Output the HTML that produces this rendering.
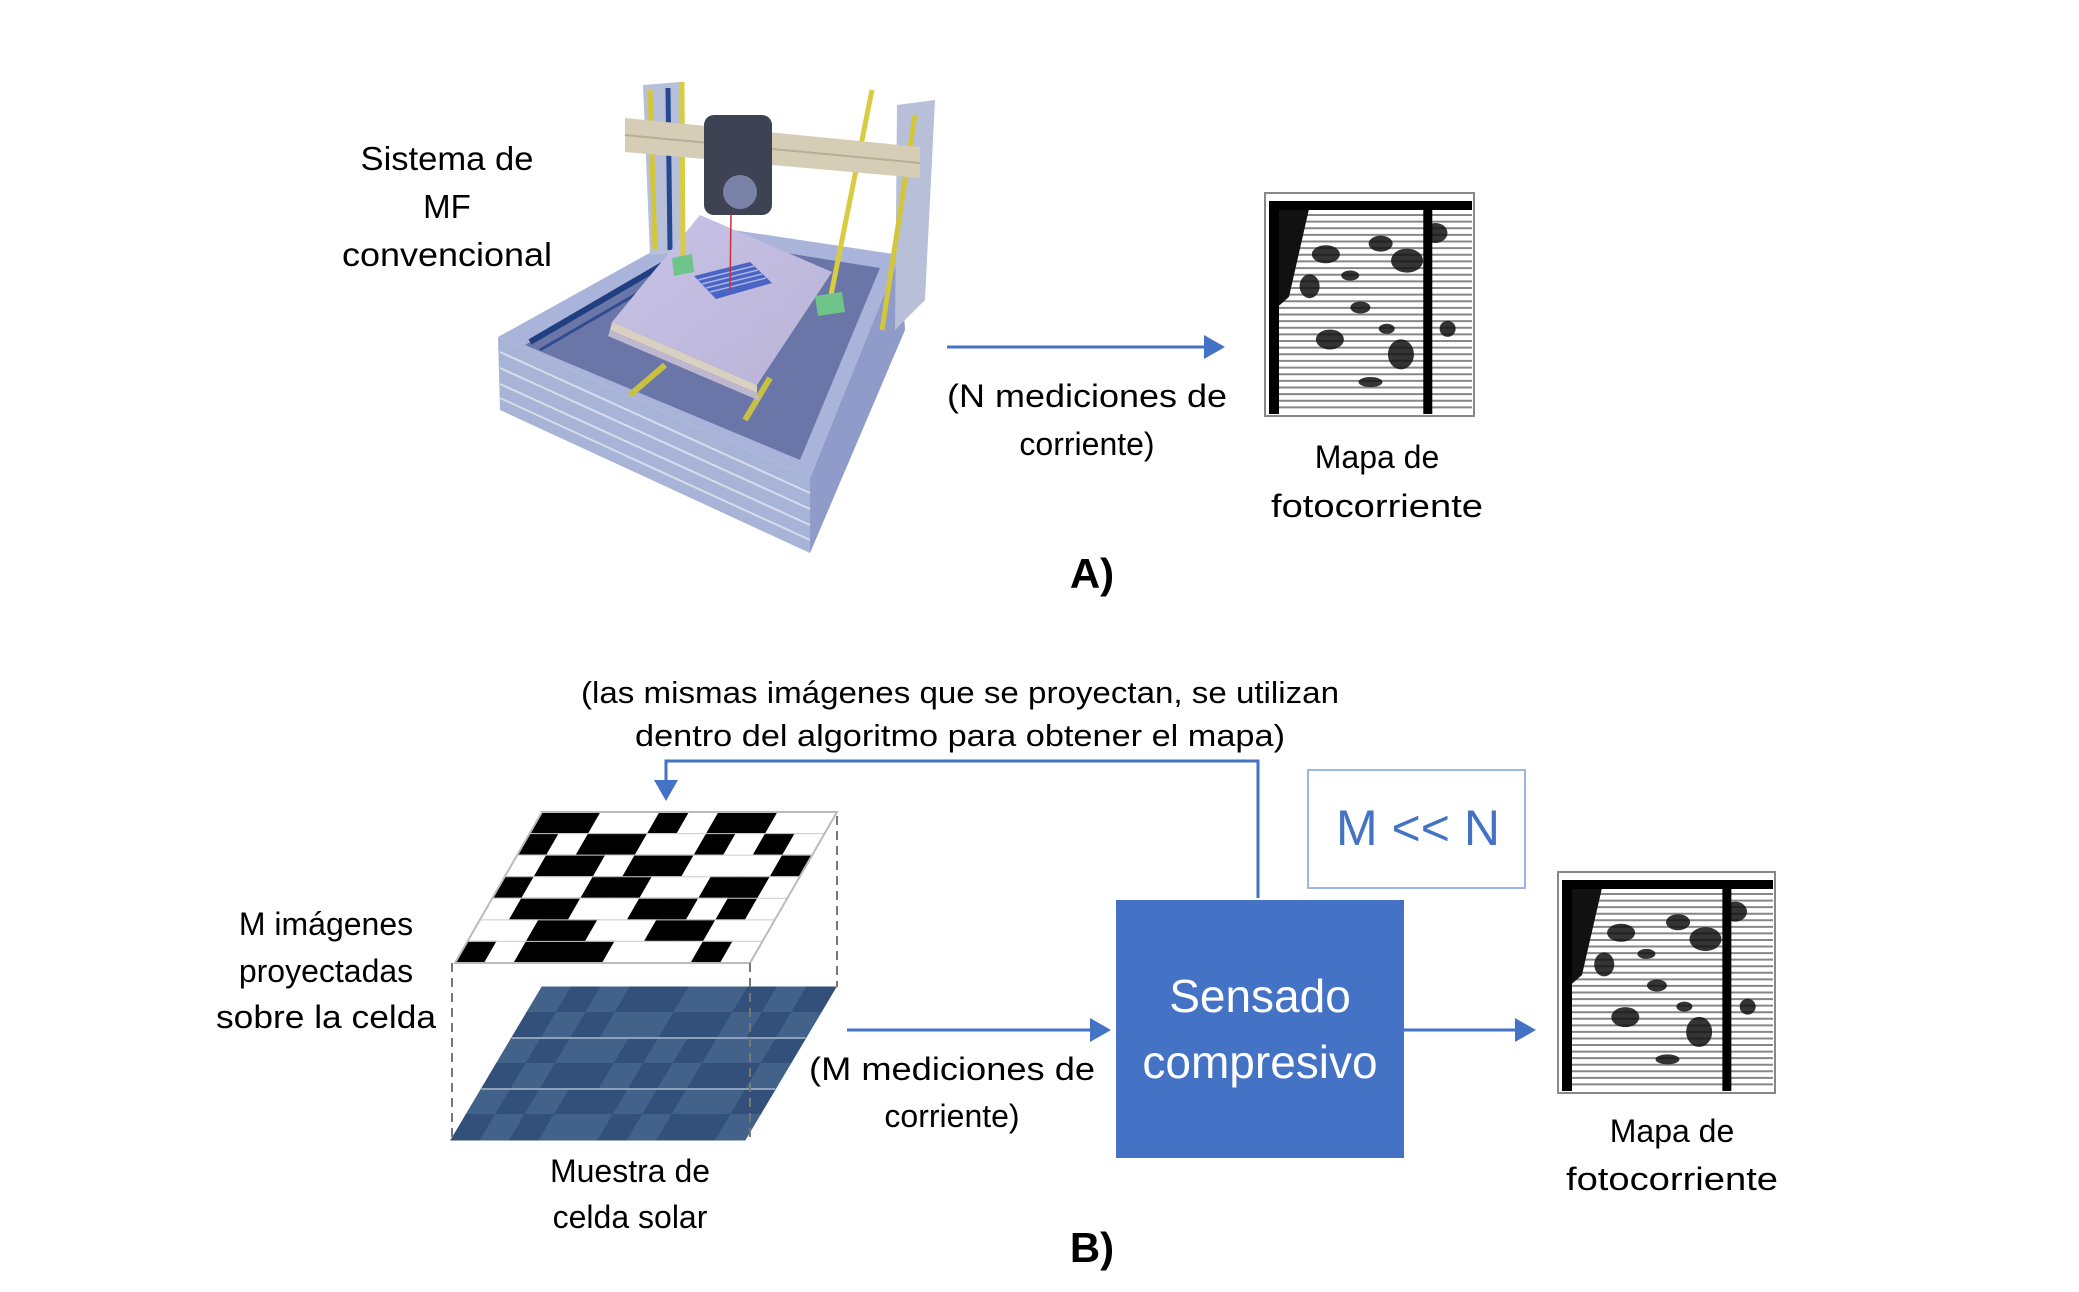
<!DOCTYPE html>
<html><head><meta charset="utf-8"><style>
html,body{margin:0;padding:0;background:#fff;}
svg{display:block;}
text{font-family:"Liberation Sans",sans-serif;fill:#000;}
</style></head><body>
<svg id="root" width="2079" height="1292" viewBox="0 0 2079 1292" xmlns="http://www.w3.org/2000/svg">
<defs>
<marker id="ah" markerWidth="8" markerHeight="8" refX="6" refY="4" orient="auto" markerUnits="strokeWidth"><path d="M0,0 L7,4 L0,8 z" fill="#4472C4"/></marker>
<linearGradient id="plate" x1="0" y1="0" x2="1" y2="1"><stop offset="0" stop-color="#c9c2e8"/><stop offset="1" stop-color="#b9b4d6"/></linearGradient>
</defs>

<g>
  <polygon points="498,337 810,478 810,553 500,410" fill="#a8b3d8"/>
  <polygon points="810,478 900,255 905,330 810,553" fill="#8f9bc8"/>
  <polygon points="498,337 700,225 900,255 810,478" fill="#aab4da"/>
  <polygon points="525,345 705,240 880,268 800,460" fill="#6a76a8"/>
  <g stroke="#d7dcea" stroke-width="2" fill="none">
    <line x1="500" y1="352" x2="810" y2="493"/><line x1="500" y1="368" x2="810" y2="509"/>
    <line x1="500" y1="384" x2="810" y2="525"/><line x1="500" y1="398" x2="810" y2="540"/>
  </g>
  <line x1="530" y1="342" x2="705" y2="240" stroke="#203f80" stroke-width="6"/>
  <line x1="540" y1="350" x2="712" y2="250" stroke="#304c8e" stroke-width="3"/>
  <line x1="665" y1="365" x2="630" y2="395" stroke="#c8c040" stroke-width="6"/>
  <line x1="770" y1="378" x2="745" y2="420" stroke="#c8c040" stroke-width="6"/>
  <polygon points="643,85 680,82 682,252 650,255" fill="#b7c0d8"/>
  <line x1="650" y1="90" x2="655" y2="250" stroke="#d4c63a" stroke-width="5"/>
  <line x1="668" y1="88" x2="670" y2="250" stroke="#264890" stroke-width="5"/>
  <polygon points="897,105 935,100 925,300 895,330" fill="#b7c0d8"/>
  <line x1="915" y1="115" x2="882" y2="330" stroke="#d4c63a" stroke-width="5"/>
  <polygon points="612,322 700,215 832,272 757,385" fill="url(#plate)"/>
  <polygon points="612,322 757,385 757,393 610,330" fill="#d8d0c0"/>
  <polygon points="610,330 757,393 760,401 608,336" fill="#bfb6cf"/>
  <polygon points="694,276 750,262 772,283 716,299" fill="#4a64c4"/>
  <g stroke="#a9b4e6" stroke-width="1.5"><line x1="698" y1="280" x2="754" y2="266"/><line x1="702" y1="284" x2="758" y2="270"/><line x1="706" y1="288" x2="762" y2="274"/><line x1="710" y1="292" x2="766" y2="278"/></g>
  <line x1="682" y1="82" x2="683" y2="258" stroke="#d8cc40" stroke-width="5"/>
  <line x1="872" y1="90" x2="830" y2="300" stroke="#d8cc40" stroke-width="5"/>
  <polygon points="672,258 692,254 694,272 674,276" fill="#6fc48a"/>
  <polygon points="815,296 842,292 845,312 818,316" fill="#6fc48a"/>
  <polygon points="625,118 920,147 920,178 625,152" fill="#d6cdb6"/>
  <line x1="625" y1="135" x2="920" y2="163" stroke="#b8ae98" stroke-width="2"/>
  <rect x="704" y="115" width="68" height="100" rx="10" fill="#3d4352"/>
  <circle cx="740" cy="192" r="17" fill="#7a82a8"/>
  <line x1="731" y1="214" x2="730" y2="290" stroke="#c83040" stroke-width="1.5"/>
</g>

<text x="447" y="170" font-size="33" text-anchor="middle" textLength="173" lengthAdjust="spacingAndGlyphs">Sistema de</text>
<text x="447" y="218" font-size="33" text-anchor="middle">MF</text>
<text x="447" y="266" font-size="33" text-anchor="middle" textLength="210" lengthAdjust="spacingAndGlyphs">convencional</text>

<line x1="947" y1="347" x2="1222" y2="347" stroke="#4472C4" stroke-width="3" marker-end="url(#ah)"/>
<text x="1087" y="407" font-size="32" text-anchor="middle" textLength="280" lengthAdjust="spacingAndGlyphs">(N mediciones de</text>
<text x="1087" y="455" font-size="32" text-anchor="middle">corriente)</text>

<g id="mapA"></g>
<text x="1377" y="468" font-size="32" text-anchor="middle">Mapa de</text>
<text x="1377" y="517" font-size="32" text-anchor="middle" textLength="212" lengthAdjust="spacingAndGlyphs">fotocorriente</text>
<text x="1092" y="588" font-size="42" font-weight="bold" text-anchor="middle">A)</text>

<text x="960" y="703" font-size="31" text-anchor="middle" textLength="758" lengthAdjust="spacingAndGlyphs">(las mismas imágenes que se proyectan, se utilizan</text>
<text x="960" y="746" font-size="31" text-anchor="middle" textLength="650" lengthAdjust="spacingAndGlyphs">dentro del algoritmo para obtener el mapa)</text>
<polyline points="1258,898 1258,761 666,761 666,798" fill="none" stroke="#4472C4" stroke-width="3" marker-end="url(#ah)"/>

<rect x="1308" y="770" width="217" height="118" fill="#fff" stroke="#9db4e4" stroke-width="2"/>
<text x="1418" y="845" font-size="50" style="fill:#4472C4" text-anchor="middle">M &lt;&lt; N</text>

<rect x="1116" y="900" width="288" height="258" fill="#4472C4"/>
<text x="1260" y="1012" font-size="46" style="fill:#fff" text-anchor="middle">Sensado</text>
<text x="1260" y="1078" font-size="46" style="fill:#fff" text-anchor="middle">compresivo</text>

<line x1="847" y1="1030" x2="1108" y2="1030" stroke="#4472C4" stroke-width="3" marker-end="url(#ah)"/>
<line x1="1404" y1="1030" x2="1533" y2="1030" stroke="#4472C4" stroke-width="3" marker-end="url(#ah)"/>
<text x="952" y="1080" font-size="32" text-anchor="middle" textLength="286" lengthAdjust="spacingAndGlyphs">(M mediciones de</text>
<text x="952" y="1127" font-size="32" text-anchor="middle">corriente)</text>

<g id="mapB"></g>
<text x="1672" y="1142" font-size="32" text-anchor="middle">Mapa de</text>
<text x="1672" y="1190" font-size="32" text-anchor="middle" textLength="212" lengthAdjust="spacingAndGlyphs">fotocorriente</text>

<text x="326" y="935" font-size="32" text-anchor="middle">M imágenes</text>
<text x="326" y="982" font-size="32" text-anchor="middle">proyectadas</text>
<text x="326" y="1028" font-size="32" text-anchor="middle" textLength="220" lengthAdjust="spacingAndGlyphs">sobre la celda</text>

<g id="solar"></g>
<g id="pattern"></g>
<g stroke="#777" stroke-width="2" stroke-dasharray="9,6">
  <line x1="452" y1="963" x2="452" y2="1140"/><line x1="750" y1="963" x2="750" y2="1140"/><line x1="837" y1="816" x2="837" y2="987"/>
</g>
<text x="630" y="1182" font-size="32" text-anchor="middle">Muestra de</text>
<text x="630" y="1228" font-size="32" text-anchor="middle">celda solar</text>
<text x="1092" y="1262" font-size="42" font-weight="bold" text-anchor="middle">B)</text>
</svg>
<script>
const NS="http://www.w3.org/2000/svg";
const patternRows=[
 "1100101100",
 "1011001010",
 "0110110001",
 "1001100110",
 "0110011010",
 "0011001100",
 "1011100010"];
const solarRows=[
 "0101100101",
 "1010011010",
 "0100101001",
 "1011010110",
 "0101101001",
 "1010010110"];
function mk(tag,attrs,parent){const e=document.createElementNS(NS,tag);for(const k in attrs)e.setAttribute(k,attrs[k]);parent.appendChild(e);return e;}
function para(g,x0top,x0bot,yTop,yBot,w,rows,c1,c0,edge,name){
  const R=rows.length,C=rows[0].length;
  for(let r=0;r<R;r++)for(let c=0;c<C;c++){
    const t0=r/R,t1=(r+1)/R;
    const xl0=x0top+(x0bot-x0top)*t0, xl1=x0top+(x0bot-x0top)*t1;
    const y0=yTop+(yBot-yTop)*t0, y1=yTop+(yBot-yTop)*t1;
    const cw=w/C;
    const col=rows[r][c]==='1'?c1:c0;
    const p=mk('polygon',{points:`${xl0+c*cw},${y0} ${xl0+(c+1)*cw},${y0} ${xl1+(c+1)*cw},${y1} ${xl1+c*cw},${y1}`,fill:col,stroke:edge||col,'stroke-width':1},g);
    
    
  }
}
para(document.getElementById('solar'),542,451,987,1140,294,solarRows,'#33507a','#43628a',null,'solar-cell-tile');
para(document.getElementById('pattern'),542,455,812,963,295,patternRows,'#000','#fff',null,'pattern-cell');
const sg=document.getElementById('solar');
[1038,1089].forEach(y=>{const t=(y-987)/153;mk('line',{x1:542-91*t,y1:y,x2:836-91*t,y2:y,stroke:'#8da0bc','stroke-width':2},sg);});
const pg=document.getElementById('pattern');
for(let r=1;r<7;r++){const t=r/7;const y=812+151*t;mk('line',{x1:542-87*t,y1:y,x2:837-87*t,y2:y,stroke:'#ccc','stroke-width':1},pg);}
mk('polygon',{points:"542,812 837,812 750,963 455,963",fill:'none',stroke:'#bbb','stroke-width':2},pg);

const blobs=[[0.28,0.25,14,9],[0.55,0.2,12,8],[0.68,0.28,16,12],[0.45,0.5,10,6],[0.3,0.65,14,10],[0.65,0.72,13,15],[0.5,0.85,12,5],[0.2,0.4,10,12],[0.82,0.15,12,10],[0.88,0.6,8,8],[0.4,0.35,9,5],[0.58,0.6,8,5]];
function map(g,x,y,w,h){
  mk('rect',{x:x,y:y,width:w,height:h,fill:'#fff',stroke:'#888','stroke-width':2},g);
  const ix=x+4,iy=y+8,iw=w-6,ih=h-10;
  for(let i=0;i<30;i++){const yy=iy+14+i*(ih-14)/30;mk('line',{x1:ix+10,y1:yy,x2:ix+iw,y2:yy,stroke:'#555','stroke-width':2,opacity:0.7},g);}
  blobs.forEach(b=>mk('ellipse',{cx:ix+b[0]*iw,cy:iy+b[1]*ih,rx:b[2],ry:b[3],fill:'#111',opacity:0.85},g));
  mk('polygon',{points:`${ix+8},${iy+8} ${ix+40},${iy+8} ${ix+20},${iy+ih*0.45} ${ix+8},${iy+ih*0.5}`,fill:'#111'},g);
  mk('rect',{x:ix,y:iy,width:iw,height:9,fill:'#000'},g);
  mk('rect',{x:ix,y:iy,width:10,height:ih,fill:'#000'},g);
  mk('rect',{x:ix+iw*0.76,y:iy,width:9,height:ih,fill:'#000'},g);
}
map(document.getElementById('mapA'),1265,193,209,223);
map(document.getElementById('mapB'),1558,872,217,221);
</script>
</body></html>
